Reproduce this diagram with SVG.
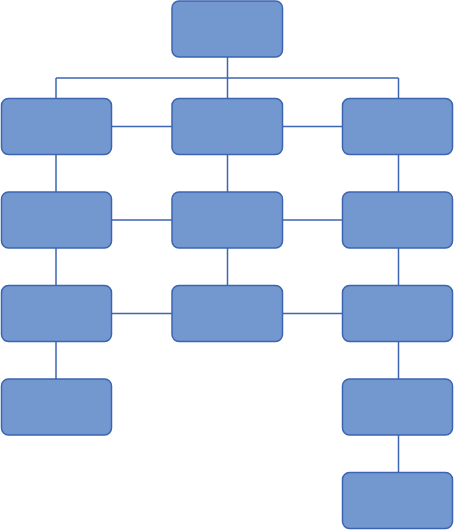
<svg xmlns="http://www.w3.org/2000/svg" width="454" height="530" viewBox="0 0 454 530">
<style>
.n{fill:#7398d0;stroke:#3c64b0;stroke-width:1.5}
.c{fill:none;stroke:#3f66b2;stroke-width:1.5}
</style>
<rect width="454" height="530" fill="#ffffff"/>
<g id="connectors" class="c">
<path d="M227.5 57V98.5M56 78H398.5M56 78V98.5M398.5 78V98.5"/>
<path d="M111.5 126.5H172M282.5 126.5H342.5"/>
<path d="M111.5 220H172M282.5 220H342.5"/>
<path d="M111.5 313.5H172M282.5 313.5H342.5"/>
<path d="M56 154.5V192M56 248V285.5M56 341.5V379"/>
<path d="M227.5 154.5V192M227.5 248V285.5"/>
<path d="M398.5 154.5V192M398.5 248V285.5M398.5 341.5V379M398.5 435V472.5"/>
</g>
<g id="n0"><rect class="n" x="172" y="1" width="110.5" height="56" rx="7"/></g>
<g id="n1"><rect class="n" x="1.5" y="98.5" width="110" height="56" rx="7"/></g>
<g id="n2"><rect class="n" x="172" y="98.5" width="110.5" height="56" rx="7"/></g>
<g id="n3"><rect class="n" x="342.5" y="98.5" width="110" height="56" rx="7"/></g>
<g id="n4"><rect class="n" x="1.5" y="192" width="110" height="56" rx="7"/></g>
<g id="n5"><rect class="n" x="172" y="192" width="110.5" height="56" rx="7"/></g>
<g id="n6"><rect class="n" x="342.5" y="192" width="110" height="56" rx="7"/></g>
<g id="n7"><rect class="n" x="1.5" y="285.5" width="110" height="56" rx="7"/></g>
<g id="n8"><rect class="n" x="172" y="285.5" width="110.5" height="56" rx="7"/></g>
<g id="n9"><rect class="n" x="342.5" y="285.5" width="110" height="56" rx="7"/></g>
<g id="n10"><rect class="n" x="1.5" y="379" width="110" height="56" rx="7"/></g>
<g id="n11"><rect class="n" x="342.5" y="379" width="110" height="56" rx="7"/></g>
<g id="n12"><rect class="n" x="342.5" y="472.5" width="110" height="56" rx="7"/></g>
</svg>
